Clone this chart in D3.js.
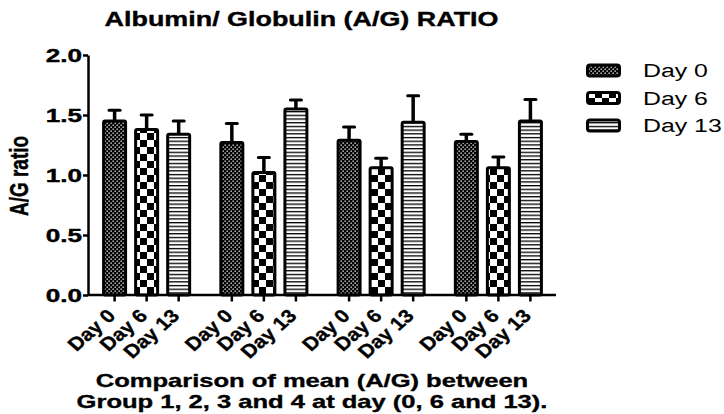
<!DOCTYPE html>
<html>
<head>
<meta charset="utf-8">
<script src="https://cdn.jsdelivr.net/npm/d3@7"></script>
<style>
  html, body { margin: 0; padding: 0; background: #fff; }
  svg { display: block; }
  text { font-family: Arial, "Liberation Sans", Helvetica, sans-serif; fill: #000; }
</style>
</head>
<body>
<svg id="chart" width="724" height="414"></svg>
<script>
// ---- data ----
const groups = ["Group 1", "Group 2", "Group 3", "Group 4"];
const days = ["Day 0", "Day 6", "Day 13"];
const meanDay0 = [1.45, 1.27, 1.29, 1.28];
const meanDay6 = [1.38, 1.02, 1.06, 1.06];
const meanDay13 = [1.34, 1.55, 1.44, 1.45];
const errDay0 = [0.09, 0.16, 0.11, 0.06];
const errDay6 = [0.12, 0.125, 0.08, 0.09];
const errDay13 = [0.11, 0.075, 0.22, 0.18];
const yTicks = [0, 0.5, 1.0, 1.5, 2.0];
const titleText = "Albumin/ Globulin (A/G) RATIO";
const yTitle = "A/G ratio";
const xTitleLines = ["Comparison of mean (A/G) between", "Group 1, 2, 3 and 4 at day (0, 6 and 13)."];

const means = [meanDay0, meanDay6, meanDay13];
const errs = [errDay0, errDay6, errDay13];
const patternIds = ["pDay0", "pDay6", "pDay13"];

const rows = [];
groups.forEach((g, gi) => days.forEach((d, di) => {
  rows.push({ group: g, day: d, di, mean: means[di][gi], err: errs[di][gi] });
}));

// ---- layout ----
const SX = 1.38; // horizontal stretch of text seen in the reference
const svg = d3.select("#chart");

const y = d3.scaleLinear().domain([0, 2]).range([295, 55]);
const xGroup = d3.scaleBand().domain(groups).range([88, 557]).paddingInner(0).paddingOuter(0);
const xDay = d3.scaleBand().domain(days).range([0, xGroup.bandwidth()]).paddingInner(0.22).paddingOuter(0.44);
const cx = r => xGroup(r.group) + xDay(r.day) + xDay.bandwidth() / 2;

// ---- patterns ----
const defs = svg.append("defs");
// Day 0: fine dots (white dots on black)
const p0 = defs.append("pattern").attr("id", "pDay0").attr("patternUnits", "userSpaceOnUse")
  .attr("width", 4).attr("height", 4);
p0.append("rect").attr("width", 4).attr("height", 4).attr("fill", "#000");
p0.append("rect").attr("x", 0.5).attr("y", 0.5).attr("width", 1.3).attr("height", 1.3).attr("fill", "#fff");
p0.append("rect").attr("x", 2.5).attr("y", 2.5).attr("width", 1.3).attr("height", 1.3).attr("fill", "#fff");
// Day 6: coarse checkerboard
const p6 = defs.append("pattern").attr("id", "pDay6").attr("patternUnits", "userSpaceOnUse")
  .attr("width", 14).attr("height", 14);
p6.append("rect").attr("width", 14).attr("height", 14).attr("fill", "#fff");
p6.append("rect").attr("x", 0).attr("y", 0).attr("width", 7).attr("height", 7).attr("fill", "#000");
p6.append("rect").attr("x", 7).attr("y", 7).attr("width", 7).attr("height", 7).attr("fill", "#000");
// Day 13: horizontal stripes
const p13 = defs.append("pattern").attr("id", "pDay13").attr("patternUnits", "userSpaceOnUse")
  .attr("width", 4).attr("height", 3.7);
p13.append("rect").attr("width", 4).attr("height", 3.7).attr("fill", "#fff");
p13.append("rect").attr("x", 0).attr("y", 0).attr("width", 4).attr("height", 1.3).attr("fill", "#000");

// ---- helper for stretched text ----
function sText(parent, x, y0, str, size, weight, anchor, extra, sx) {
  const t = parent.append("text")
    .attr("transform", `translate(${x},${y0}) scale(${sx || SX},1)` + (extra || ""))
    .attr("text-anchor", anchor)
    .style("font-size", size + "px")
    .style("font-weight", weight)
    .text(str);
  if (weight === "bold") t.attr("stroke", "#000").attr("stroke-width", 0.35);
  return t;
}

// ---- title ----
sText(svg, 301.5, 26, titleText, 19.5, "bold", "middle");

// ---- error bars (behind bars) ----
const eg = svg.append("g");
eg.selectAll("line.stem").data(rows).join("line").attr("class", "stem")
  .attr("x1", cx).attr("x2", cx)
  .attr("y1", d => y(d.mean)).attr("y2", d => y(d.mean + d.err))
  .attr("stroke", "#000").attr("stroke-width", 3.5);
eg.selectAll("line.cap").data(rows).join("line").attr("class", "cap")
  .attr("x1", d => cx(d) - 5.5).attr("x2", d => cx(d) + 5.5)
  .attr("y1", d => y(d.mean + d.err)).attr("y2", d => y(d.mean + d.err))
  .attr("stroke", "#000").attr("stroke-width", 3).attr("stroke-linecap", "round");

// ---- bars ----
svg.append("g").selectAll("rect").data(rows).join("rect")
  .attr("x", d => xGroup(d.group) + xDay(d.day) + 1.5)
  .attr("width", xDay.bandwidth() - 3)
  .attr("y", d => y(d.mean))
  .attr("height", d => y(0) - y(d.mean))
  .attr("rx", 1.5)
  .attr("fill", d => `url(#${patternIds[d.di]})`)
  .attr("stroke", "#000").attr("stroke-width", 3);

// ---- y axis ----
const yAxis = svg.append("g").attr("transform", "translate(88,0)")
  .call(d3.axisLeft(y).tickValues(yTicks).tickFormat(d3.format(".1f")).tickSize(5).tickSizeOuter(0));
yAxis.select(".domain").attr("stroke", "#000").attr("stroke-width", 2.5);
yAxis.selectAll(".tick line").attr("stroke", "#000").attr("stroke-width", 2.5);
yAxis.selectAll(".tick text")
  .attr("x", null).attr("dy", null)
  .attr("transform", `translate(-6,6.5) scale(1.45,1)`)
  .attr("text-anchor", "end")
  .attr("stroke", "#000").attr("stroke-width", 0.4)
  .style("font-size", "18px").style("font-weight", "bold").attr("font-family", null);

// ---- x axis (manual, nested bands) ----
const xr = xGroup.range();
svg.append("line").attr("x1", xr[0]).attr("x2", xr[1] - 1).attr("y1", y(0)).attr("y2", y(0))
  .attr("stroke", "#000").attr("stroke-width", 2.5);
svg.append("g").selectAll("line").data(rows).join("line")
  .attr("x1", cx).attr("x2", cx).attr("y1", y(0)).attr("y2", y(0) + 6.5)
  .attr("stroke", "#000").attr("stroke-width", 2.5);
const xl = svg.append("g");
rows.forEach(r => {
  sText(xl, cx(r) + 2, 317, r.day, 18.5, "bold", "end", " rotate(-45)", 1.15);
});

// ---- axis titles ----
sText(svg, 28, 176, yTitle, 19, "bold", "middle", " rotate(-90)");
sText(svg, 312, 387, xTitleLines[0], 18.5, "bold", "middle");
sText(svg, 312, 408, xTitleLines[1], 18.5, "bold", "middle");

// ---- legend ----
const lg = svg.append("g");
const legendY = d3.scalePoint().domain(days).range([70.5, 125.5]);
lg.selectAll("rect").data(days).join("rect")
  .attr("x", 587.5).attr("width", 32)
  .attr("y", d => legendY(d) - 5.5).attr("height", 11)
  .attr("rx", 2.5)
  .attr("fill", (d, i) => `url(#${patternIds[i]})`)
  .attr("stroke", "#000").attr("stroke-width", 3);
days.forEach(d => sText(lg, 643, legendY(d) + 6.5, d, 18, "normal", "start"));
</script>
</body>
</html>
